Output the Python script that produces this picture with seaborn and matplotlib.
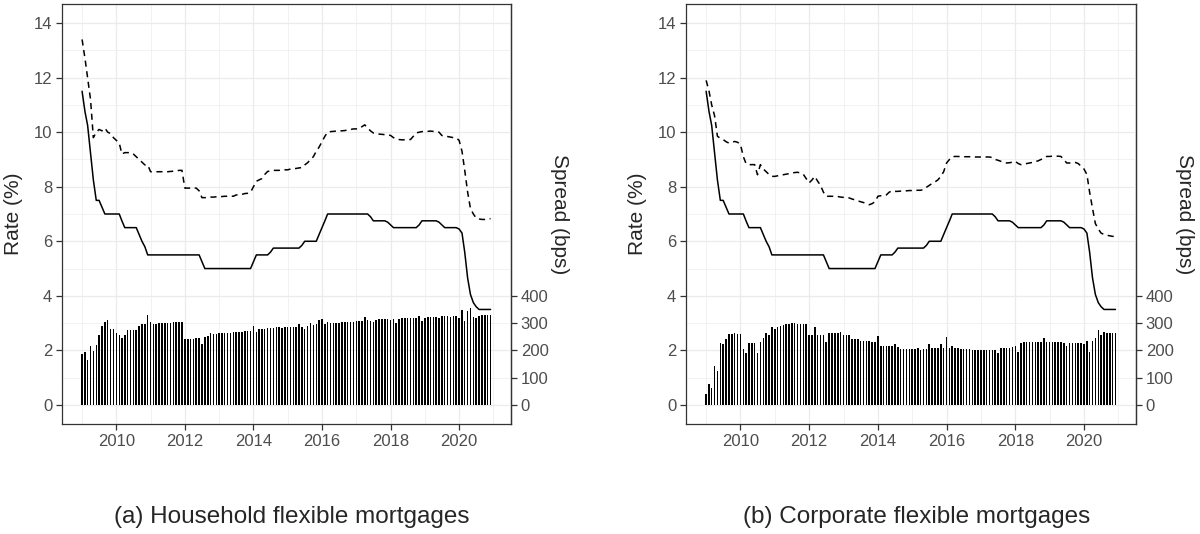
import numpy as np
import pandas as pd
import seaborn as sns
import matplotlib.pyplot as plt
import matplotlib.dates as mdates
from matplotlib.ticker import MultipleLocator

sns.set_style("white")
plt.rcParams['font.family'] = ['Liberation Sans', 'DejaVu Sans']

months = pd.date_range('2009-01-01', periods=144, freq='MS')

# policy rate (solid line), same in both panels
policy_rate = [11.5, 10.75, 10.25, 9.25, 8.25, 7.5, 7.5, 7.25, 7.0, 7.0, 7.0, 7.0,
               7.0, 7.0, 6.75, 6.5, 6.5, 6.5, 6.5, 6.5, 6.25, 6.0, 5.8, 5.5,
               5.5, 5.5, 5.5, 5.5, 5.5, 5.5, 5.5, 5.5, 5.5, 5.5, 5.5, 5.5,
               5.5, 5.5, 5.5, 5.5, 5.5, 5.5, 5.25, 5.0, 5.0, 5.0, 5.0, 5.0,
               5.0, 5.0, 5.0, 5.0, 5.0, 5.0, 5.0, 5.0, 5.0, 5.0, 5.0, 5.0,
               5.25, 5.5, 5.5, 5.5, 5.5, 5.5, 5.6, 5.75, 5.75, 5.75, 5.75, 5.75,
               5.75, 5.75, 5.75, 5.75, 5.75, 5.85, 6.0, 6.0, 6.0, 6.0, 6.0, 6.25,
               6.5, 6.75, 7.0, 7.0, 7.0, 7.0, 7.0, 7.0, 7.0, 7.0, 7.0, 7.0,
               7.0, 7.0, 7.0, 7.0, 7.0, 6.9, 6.75, 6.75, 6.75, 6.75, 6.75, 6.7,
               6.6, 6.5, 6.5, 6.5, 6.5, 6.5, 6.5, 6.5, 6.5, 6.5, 6.6, 6.75,
               6.75, 6.75, 6.75, 6.75, 6.75, 6.7, 6.6, 6.5, 6.5, 6.5, 6.5, 6.5,
               6.45, 6.3, 5.6, 4.65, 4.05, 3.75, 3.6, 3.5, 3.5, 3.5, 3.5, 3.5]

# mortgage rates (dashed)
household_rate = [13.4, 12.7, 12.0, 11.2, 9.8, 10.0, 10.1, 10.05, 10.15, 10.0, 9.95, 9.8,
                  9.7, 9.6, 9.2, 9.25, 9.25, 9.25, 9.2, 9.1, 9.0, 8.9, 8.8, 8.8,
                  8.55, 8.55, 8.55, 8.55, 8.55, 8.55, 8.55, 8.56, 8.57, 8.58, 8.6, 8.6,
                  7.95, 7.95, 7.95, 7.95, 7.95, 7.85, 7.6, 7.6, 7.6, 7.62, 7.62, 7.63,
                  7.63, 7.64, 7.65, 7.65, 7.66, 7.65, 7.7, 7.7, 7.72, 7.75, 7.76, 7.8,
                  8.0, 8.2, 8.25, 8.3, 8.45, 8.56, 8.58, 8.6, 8.6, 8.6, 8.62, 8.62,
                  8.62, 8.65, 8.66, 8.67, 8.69, 8.7, 8.8, 8.88, 9.0, 9.1, 9.3, 9.45,
                  9.65, 9.85, 10.0, 10.02, 10.03, 10.04, 10.05, 10.05, 10.06, 10.08, 10.1, 10.12,
                  10.12, 10.13, 10.2, 10.27, 10.15, 10.05, 9.97, 9.95, 9.93, 9.92, 9.91, 9.9,
                  9.88, 9.8, 9.75, 9.73, 9.72, 9.72, 9.73, 9.73, 9.85, 9.97, 10.0, 10.02,
                  10.03, 10.03, 10.04, 10.03, 10.03, 10.0, 9.88, 9.85, 9.84, 9.82, 9.8, 9.79,
                  9.7, 9.3, 8.6, 7.8, 7.2, 7.0, 6.85, 6.82, 6.8, 6.8, 6.82, 6.83]

corporate_rate = [11.9, 11.5, 11.0, 10.6, 9.85, 9.78, 9.73, 9.65, 9.6, 9.63, 9.66, 9.63,
                  9.55, 9.1, 8.85, 8.81, 8.81, 8.81, 8.44, 8.81, 8.65, 8.55, 8.45, 8.38,
                  8.38, 8.4, 8.42, 8.44, 8.46, 8.48, 8.5, 8.52, 8.53, 8.5, 8.45, 8.3,
                  8.14, 8.25, 8.38, 8.2, 8.05, 7.8, 7.65, 7.65, 7.65, 7.65, 7.64, 7.62,
                  7.61, 7.6, 7.59, 7.55, 7.52, 7.48, 7.45, 7.42, 7.38, 7.34, 7.38, 7.45,
                  7.65, 7.67, 7.67, 7.7, 7.8, 7.85, 7.83, 7.83, 7.84, 7.85, 7.85, 7.86,
                  7.86, 7.87, 7.87, 7.87, 7.9, 7.98, 8.05, 8.12, 8.18, 8.25, 8.38, 8.55,
                  8.87, 9.0, 9.1, 9.11, 9.11, 9.1, 9.1, 9.1, 9.1, 9.09, 9.09, 9.09,
                  9.09, 9.09, 9.09, 9.09, 9.07, 9.0, 8.97, 8.93, 8.9, 8.87, 8.88, 8.9,
                  8.93, 8.85, 8.81, 8.83, 8.85, 8.87, 8.89, 8.92, 8.95, 9.0, 9.05, 9.11,
                  9.11, 9.12, 9.12, 9.12, 9.11, 9.0, 8.87, 8.87, 8.88, 8.89, 8.85, 8.75,
                  8.65, 8.45, 7.8, 7.2, 6.65, 6.45, 6.3, 6.25, 6.22, 6.2, 6.18, 6.18]

# spreads in bps (bars)
household_spread = [188, 193, 163, 215, 197, 218, 258, 291, 303, 313, 280, 280,
                    264, 258, 246, 256, 273, 273, 273, 276, 291, 298, 298, 331,
                    305, 298, 298, 300, 300, 301, 302, 302, 303, 303, 304, 305,
                    243, 240, 240, 242, 244, 245, 225, 250, 252, 262, 260, 261,
                    262, 263, 263, 264, 265, 266, 267, 268, 269, 270, 270, 270,
                    289, 267, 277, 279, 280, 281, 283, 283, 284, 286, 282, 284,
                    285, 285, 287, 285, 298, 287, 278, 290, 300, 292, 296, 312,
                    316, 298, 305, 302, 300, 300, 302, 303, 303, 304, 305, 305,
                    306, 306, 307, 322, 310, 308, 305, 312, 314, 315, 315, 315,
                    313, 314, 300, 316, 318, 318, 318, 318, 319, 320, 325, 309,
                    320, 322, 323, 323, 322, 318, 325, 327, 326, 323, 325, 325,
                    320, 348, 306, 343, 355, 324, 318, 327, 328, 328, 329, 330]

corporate_spread = [39, 77, 61, 144, 125, 227, 225, 243, 261, 261, 264, 261,
                    261, 205, 190, 227, 227, 227, 190, 229, 245, 264, 258, 286,
                    280, 286, 291, 294, 298, 298, 301, 301, 298, 298, 298, 298,
                    258, 258, 286, 258, 258, 258, 229, 264, 264, 264, 264, 266,
                    258, 258, 258, 242, 242, 242, 233, 233, 233, 233, 229, 229,
                    254, 215, 217, 217, 217, 217, 225, 211, 205, 205, 205, 205,
                    205, 205, 207, 203, 205, 205, 223, 207, 207, 210, 223, 210,
                    250, 207, 215, 207, 209, 205, 205, 204, 204, 203, 203, 203,
                    203, 203, 203, 203, 203, 203, 191, 210, 210, 210, 210, 213,
                    215, 194, 228, 231, 231, 231, 231, 231, 231, 231, 247, 231,
                    231, 231, 230, 230, 230, 228, 215, 228, 228, 228, 228, 226,
                    223, 235, 194, 235, 247, 274, 256, 268, 262, 262, 262, 262]

captions = ['(a) Household flexible mortgages', '(b) Corporate flexible mortgages']

fig = plt.figure(figsize=(12, 5.34), dpi=100)
ax1 = fig.add_axes([62/1200, 110/534, 449/1200, 420/534])
ax2 = fig.add_axes([686/1200, 110/534, 450/1200, 420/534])

panels = [(ax1, household_rate, household_spread), (ax2, corporate_rate, corporate_spread)]
grid_col = '#EBEBEB'
dark = '#333333'

for ax, rate, spread in panels:
    df = pd.DataFrame({'month': months, 'policy': policy_rate, 'rate': rate,
                       'spread': np.array(spread) / 100})
    ax.set_axisbelow(True)
    ax.bar(df['month'], df['spread'], width=16, color='black', linewidth=0)
    sns.lineplot(data=df, x='month', y='policy', ax=ax, color='black', linewidth=1.1)
    sns.lineplot(data=df, x='month', y='rate', ax=ax, color='black', linewidth=1.1,
                 linestyle=(0, (4, 3)))

    ax.set_xlim(pd.Timestamp('2008-06-01'), pd.Timestamp('2021-07-07'))
    ax.set_ylim(-0.7, 14.7)
    ax.xaxis.set_major_locator(mdates.YearLocator(2))
    ax.xaxis.set_minor_locator(mdates.YearLocator(1))
    ax.xaxis.set_major_formatter(mdates.DateFormatter('%Y'))
    ax.yaxis.set_major_locator(MultipleLocator(2))
    ax.yaxis.set_minor_locator(MultipleLocator(1))
    ax.set_yticks(range(0, 15, 2))

    ax.grid(which='major', color=grid_col, linewidth=0.9)
    ax.grid(which='minor', color=grid_col, linewidth=0.45)
    for s in ax.spines.values():
        s.set_color(dark)
        s.set_linewidth(0.9)
    ax.tick_params(which='major', direction='out', length=4, width=0.9, color=dark,
                   labelcolor='#4D4D4D', labelsize=12, bottom=True, left=True, pad=3)
    ax.tick_params(which='minor', length=0)
    ax.set_xlabel('')
    ax.set_ylabel('Rate (%)', fontsize=15, labelpad=8)

    sec = ax.secondary_yaxis('right', functions=(lambda y: y * 100, lambda y: y / 100))
    sec.set_yticks([0, 100, 200, 300, 400])
    sec.spines['right'].set_color(dark)
    sec.spines['right'].set_linewidth(0.9)
    sec.tick_params(direction='out', length=4, width=0.9, color=dark,
                    labelcolor='#4D4D4D', labelsize=12, pad=3)
    sec.set_ylabel('Spread (bps)', fontsize=15, rotation=270, labelpad=15)

fig.text(292/1200, 1 - 517/534, captions[0], ha='center', va='center', fontsize=17.5)
fig.text(917/1200, 1 - 517/534, captions[1], ha='center', va='center', fontsize=17.5)

fig.savefig('out.png', dpi=100)
